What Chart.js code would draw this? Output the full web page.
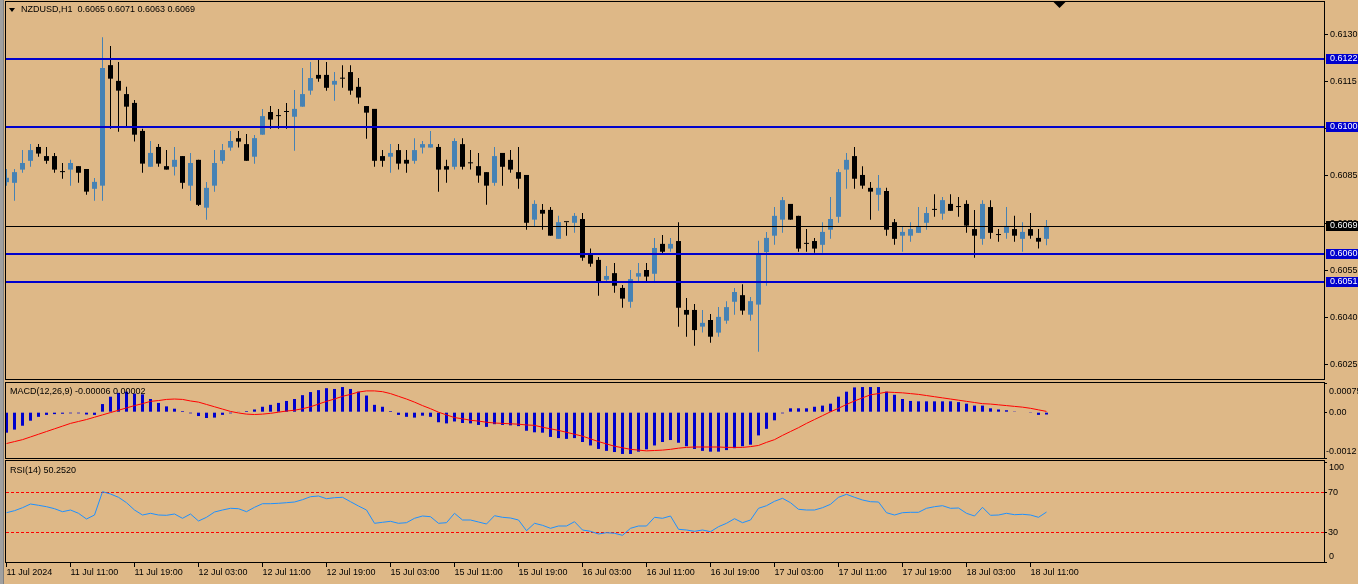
<!DOCTYPE html>
<html><head><meta charset="utf-8">
<script src="https://cdn.jsdelivr.net/npm/chart.js@4.4.1/dist/chart.umd.min.js"></script>
<style>
html,body{margin:0;padding:0;background:#DEB887;width:1358px;height:584px;overflow:hidden;font-family:'Liberation Sans',Arial,sans-serif;}
canvas{position:absolute;left:0;}
#frame{position:absolute;left:0;top:0;width:4px;height:584px;background:#a0a0a0;border-right:1px solid #808080;box-sizing:border-box;}
.lbl{position:absolute;font-size:9px;line-height:11px;color:#000;white-space:pre;z-index:5;}
#tri{position:absolute;left:9px;top:8px;width:0;height:0;border-left:3px solid transparent;border-right:3px solid transparent;border-top:4px solid #000;z-index:5;}
</style></head><body>
<div id="frame"></div>
<canvas id="main" width="1358" height="381" style="top:0"></canvas>
<canvas id="macd" width="1358" height="77" style="top:382px"></canvas>
<canvas id="rsi" width="1358" height="124" style="top:460px"></canvas>
<div id="tri"></div>
<div class="lbl" id="title" style="left:21px;top:4px"></div>
<div class="lbl" id="macdLbl" style="left:10px;top:386px"></div>
<div class="lbl" id="rsiLbl" style="left:10px;top:465px"></div>
<script>
// ---------------- DATA ----------------
const symbol = "NZDUSD,H1";
const opens = [0.60830,0.60828,0.60870,0.60898,0.60942,0.60913,0.60913,0.60862,0.60870,0.60881,
0.60872,0.60809,0.60819,0.61202,0.61152,0.61110,0.61082,0.60993,0.60879,0.60942,
0.60881,0.60879,0.60913,0.60819,0.60901,0.60749,0.60819,0.60898,0.60940,0.60970,
0.60951,0.60911,0.60981,0.61053,0.61040,0.61053,0.61038,0.61070,0.61121,0.61171,
0.61171,0.61140,0.61159,0.61180,0.61133,0.61072,0.61063,0.60913,0.60911,0.60932,
0.60901,0.60898,0.60940,0.60940,0.60942,0.60881,0.60879,0.60951,0.60890,0.60881,
0.60862,0.60828,0.60923,0.60901,0.60862,0.60853,0.60711,0.60742,0.60742,0.60650,
0.60703,0.60701,0.60713,0.60600,0.60583,0.60520,0.60541,0.60494,0.60450,0.60530,
0.60551,0.60539,0.60634,0.60619,0.60643,0.60424,0.60424,0.60371,0.60392,0.60352,
0.60390,0.60450,0.60471,0.60409,0.60441,0.60608,0.60660,0.60711,0.60761,0.60723,
0.60634,0.60643,0.60631,0.60679,0.60720,0.60870,0.60913,0.60853,0.60812,0.60790,
0.60802,0.60703,0.60660,0.60660,0.60669,0.60701,0.60742,0.60730,0.60761,0.60751,
0.60761,0.60681,0.60650,0.60751,0.60662,0.60669,0.60681,0.60650,0.60681,0.60653,
0.60650];
const highs = [0.60872,0.60872,0.60932,0.60951,0.60951,0.60942,0.60923,0.60891,0.60901,0.60881,
0.60872,0.60843,0.61291,0.61263,0.61212,0.61133,0.61091,0.61000,0.60961,0.60951,
0.60932,0.60942,0.60913,0.60923,0.60901,0.60831,0.60932,0.60951,0.60993,0.60993,
0.60983,0.60980,0.61063,0.61072,0.61063,0.61082,0.61123,0.61193,0.61212,0.61218,
0.61212,0.61180,0.61202,0.61202,0.61161,0.61072,0.61063,0.60932,0.60951,0.60951,
0.60932,0.60970,0.60961,0.60993,0.60951,0.60901,0.60970,0.60970,0.60932,0.60923,
0.60862,0.60942,0.60923,0.60932,0.60942,0.60853,0.60773,0.60761,0.60751,0.60723,
0.60703,0.60732,0.60732,0.60619,0.60592,0.60564,0.60573,0.60503,0.60551,0.60573,
0.60573,0.60653,0.60662,0.60653,0.60703,0.60462,0.60443,0.60424,0.60411,0.60433,
0.60452,0.60494,0.60506,0.60465,0.60644,0.60672,0.60751,0.60783,0.60761,0.60723,
0.60681,0.60653,0.60703,0.60783,0.60872,0.60923,0.60942,0.60881,0.60831,0.60853,
0.60812,0.60713,0.60691,0.60703,0.60751,0.60751,0.60792,0.60783,0.60792,0.60783,
0.60773,0.60742,0.60773,0.60773,0.60681,0.60751,0.60723,0.60703,0.60732,0.60681,
0.60710];
const lows = [0.60819,0.60771,0.60860,0.60879,0.60911,0.60889,0.60860,0.60841,0.60819,0.60828,
0.60790,0.60771,0.60771,0.61000,0.60990,0.61006,0.60959,0.60860,0.60879,0.60879,
0.60870,0.60851,0.60809,0.60771,0.60754,0.60711,0.60800,0.60889,0.60930,0.60940,
0.60898,0.60889,0.60981,0.61000,0.61000,0.61000,0.60930,0.61070,0.61108,0.61149,
0.61121,0.61089,0.61130,0.61108,0.61079,0.60968,0.60879,0.60879,0.60860,0.60870,
0.60860,0.60889,0.60921,0.60940,0.60800,0.60828,0.60870,0.60870,0.60870,0.60828,
0.60758,0.60819,0.60819,0.60860,0.60809,0.60679,0.60689,0.60679,0.60660,0.60650,
0.60660,0.60669,0.60580,0.60561,0.60469,0.60514,0.60479,0.60431,0.60431,0.60514,
0.60514,0.60514,0.60600,0.60609,0.60371,0.60339,0.60310,0.60352,0.60320,0.60339,
0.60380,0.60409,0.60409,0.60390,0.60291,0.60501,0.60631,0.60669,0.60711,0.60609,
0.60609,0.60606,0.60606,0.60650,0.60701,0.60809,0.60809,0.60809,0.60711,0.60739,
0.60660,0.60631,0.60609,0.60641,0.60669,0.60679,0.60720,0.60711,0.60739,0.60720,
0.60669,0.60590,0.60631,0.60650,0.60641,0.60650,0.60641,0.60609,0.60650,0.60619,
0.60630];
const closes = [0.60844,0.60862,0.60891,0.60932,0.60921,0.60898,0.60870,0.60862,0.60891,0.60860,
0.60800,0.60831,0.61193,0.61159,0.61121,0.61070,0.60981,0.60889,0.60923,0.60889,
0.60870,0.60901,0.60828,0.60891,0.60758,0.60812,0.60891,0.60932,0.60961,0.60959,
0.60898,0.60970,0.61040,0.61029,0.61040,0.61053,0.61063,0.61110,0.61161,0.61159,
0.61130,0.61152,0.61159,0.61121,0.61099,0.61051,0.60898,0.60898,0.60923,0.60889,
0.60889,0.60932,0.60951,0.60951,0.60870,0.60870,0.60961,0.60879,0.60890,0.60851,
0.60819,0.60913,0.60879,0.60870,0.60841,0.60701,0.60761,0.60730,0.60660,0.60703,
0.60703,0.60723,0.60590,0.60571,0.60514,0.60532,0.60501,0.60460,0.60522,0.60541,
0.60530,0.60621,0.60609,0.60634,0.60431,0.60409,0.60360,0.60383,0.60339,0.60402,
0.60433,0.60481,0.60422,0.60452,0.60602,0.60653,0.60723,0.60773,0.60711,0.60619,
0.60634,0.60619,0.60672,0.60713,0.60862,0.60901,0.60841,0.60819,0.60800,0.60812,
0.60679,0.60650,0.60672,0.60681,0.60691,0.60732,0.60742,0.60773,0.60739,0.60751,
0.60692,0.60660,0.60761,0.60669,0.60662,0.60691,0.60660,0.60672,0.60660,0.60641,
0.60690];
const macdMain = [-0.00053,-0.00045,-0.00035,-0.00022,-0.00012,-0.00007,-0.00005,-0.00004,-0.00003,-0.00003,
-0.00006,-0.00007,0.00021,0.00040,0.00050,0.00053,0.00048,0.00046,0.00034,0.00024,
0.00015,0.00009,0.00003,-0.00003,-0.00010,-0.00015,-0.00014,-0.00007,-0.00003,0.00001,
0.00003,0.00007,0.00014,0.00019,0.00024,0.00029,0.00034,0.00044,0.00052,0.00057,
0.00062,0.00060,0.00065,0.00060,0.00053,0.00043,0.00019,0.00014,0.00003,-0.00007,
-0.00012,-0.00014,-0.00009,-0.00012,-0.00026,-0.00029,-0.00024,-0.00028,-0.00029,-0.00033,
-0.00038,-0.00031,-0.00033,-0.00034,-0.00036,-0.00048,-0.00052,-0.00053,-0.00064,-0.00067,
-0.00069,-0.00067,-0.00077,-0.00086,-0.00095,-0.00100,-0.00103,-0.00108,-0.00108,-0.00102,
-0.00096,-0.00086,-0.00077,-0.00072,-0.00079,-0.00088,-0.00095,-0.00100,-0.00102,-0.00102,
-0.00098,-0.00093,-0.00088,-0.00084,-0.00060,-0.00043,-0.00021,-0.00003,0.00010,0.00010,
0.00010,0.00014,0.00017,0.00022,0.00040,0.00053,0.00064,0.00065,0.00065,0.00065,
0.00053,0.00045,0.00034,0.00029,0.00028,0.00028,0.00028,0.00028,0.00028,0.00026,
0.00022,0.00017,0.00017,0.00010,0.00007,0.00005,0.00002,0.00000,-0.00002,-0.00007,
-0.00006];
const macdSignal = [-0.00081,-0.00076,-0.00071,-0.00064,-0.00057,-0.00050,-0.00043,-0.00036,-0.00029,-0.00024,
-0.00019,-0.00013,-0.00007,-0.00001,0.00005,0.00011,0.00017,0.00022,0.00028,0.00030,
0.00033,0.00034,0.00033,0.00029,0.00026,0.00020,0.00014,0.00008,0.00002,-0.00002,
-0.00005,-0.00006,-0.00005,-0.00003,0.00000,0.00003,0.00005,0.00009,0.00014,0.00021,
0.00028,0.00034,0.00041,0.00046,0.00052,0.00055,0.00055,0.00053,0.00048,0.00041,
0.00034,0.00026,0.00017,0.00009,0.00000,-0.00007,-0.00014,-0.00017,-0.00021,-0.00023,
-0.00026,-0.00028,-0.00029,-0.00030,-0.00031,-0.00033,-0.00034,-0.00039,-0.00043,-0.00047,
-0.00052,-0.00057,-0.00062,-0.00069,-0.00076,-0.00082,-0.00088,-0.00092,-0.00096,-0.00098,
-0.00100,-0.00099,-0.00098,-0.00096,-0.00093,-0.00091,-0.00090,-0.00090,-0.00090,-0.00090,
-0.00091,-0.00091,-0.00091,-0.00089,-0.00086,-0.00078,-0.00071,-0.00060,-0.00050,-0.00040,
-0.00029,-0.00019,-0.00009,0.00001,0.00010,0.00020,0.00029,0.00037,0.00045,0.00048,
0.00052,0.00051,0.00050,0.00048,0.00046,0.00043,0.00040,0.00037,0.00034,0.00031,
0.00028,0.00025,0.00022,0.00021,0.00019,0.00017,0.00015,0.00013,0.00010,0.00006,
0.00002];
const rsiValues = [49.6,51.6,54.6,58.3,57.0,55.6,53.6,50.6,52.3,49.0,
43.3,47.3,70.6,68.3,65.0,59.6,52.3,47.3,49.0,47.3,
47.0,48.3,44.0,48.3,41.3,45.0,50.3,52.3,54.0,53.6,
50.6,55.0,58.6,58.6,59.0,59.6,60.3,62.6,65.6,66.3,
63.6,64.6,65.0,60.6,56.3,52.3,39.0,40.0,41.0,39.0,
39.6,44.0,46.3,45.6,39.0,39.6,49.0,42.3,42.3,40.3,
38.3,46.6,45.0,44.3,42.3,31.6,39.0,37.0,34.0,36.3,
36.3,40.6,32.3,31.0,28.3,29.6,29.0,27.0,34.0,36.3,
36.3,45.0,44.0,46.3,33.0,32.3,31.0,32.3,30.6,35.6,
39.0,43.6,39.6,42.3,54.0,56.6,61.0,64.0,59.6,53.0,
52.3,52.3,54.6,58.0,65.0,68.0,65.0,62.3,60.6,60.3,
49.6,47.3,49.6,50.0,50.0,54.0,55.6,56.6,54.0,54.3,
49.0,46.3,55.0,47.0,47.3,49.0,47.6,48.0,47.3,45.0,
50.252];
const levelPrices = [0.61221, 0.61005, 0.60603, 0.60514];
const priceTicks = [0.6130, 0.6115, 0.6100, 0.6085, 0.6070, 0.6055, 0.6040, 0.6025];
const macdTicks = [0.00075, 0.00, -0.0012];
const rsiTicks = [100, 70, 30, 0];
const rsiLevels = [70, 30];
const timeTickIndex = [0, 8, 16, 24, 32, 40, 48, 56, 64, 72, 80, 88, 96, 104, 112, 120, 128];
const timeTickLabels = ["11 Jul 2024","11 Jul 11:00","11 Jul 19:00","12 Jul 03:00","12 Jul 11:00","12 Jul 19:00",
"15 Jul 03:00","15 Jul 11:00","15 Jul 19:00","16 Jul 03:00","16 Jul 11:00","16 Jul 19:00",
"17 Jul 03:00","17 Jul 11:00","17 Jul 19:00","18 Jul 03:00","18 Jul 11:00"];

// ---------------- STYLE / LAYOUT ----------------
const FONT = "'Liberation Sans', Arial, sans-serif";
Chart.defaults.font.family = FONT;
Chart.defaults.font.size = 9;
Chart.defaults.color = '#000';
const X_MIN = -0.1875, X_MAX = 164.8125;
const AXIS_W = 33;
const BULL = '#4682B4', BEAR = '#000000', LINE_BLUE = '#0000CD';
const last = closes.length - 1;

const fitY = s => { s.width = AXIS_W; s.paddingTop = 0; s.paddingBottom = 0; };
const framePlugin = {id:'frame', afterDraw(c){
  const a = c.chartArea, x = c.ctx; x.save(); x.strokeStyle = '#000'; x.lineWidth = 1;
  x.strokeRect(a.left + 0.5, a.top + 0.5, a.right - a.left - 1, a.bottom - a.top - 1); x.restore();
}};
const baseOpts = (yScale, extra) => Object.assign({
  responsive:false, devicePixelRatio:1, animation:false, events:[],
  plugins:{legend:{display:false}, tooltip:{enabled:false}},
  scales:{x:{type:'linear', display:false, min:X_MIN, max:X_MAX, offset:false, bounds:'data'}, y:yScale}
}, extra);

// ---------- MAIN ----------
const candleColors = closes.map((c, i) => c > opens[i] ? BULL : BEAR);
const trunc4 = v => (Math.floor(v * 10000 + 1e-6) / 10000).toFixed(4);
const mainPlugin = {id:'mainExtras',
  afterDatasetsDraw(c){
    const {ctx, chartArea:a, scales:{y}} = c; ctx.save();
    ctx.fillStyle = LINE_BLUE;
    levelPrices.forEach(v => { const py = Math.round(y.getPixelForValue(v)); ctx.fillRect(a.left, py - 1, a.right - a.left, 2); });
    const bp = Math.round(y.getPixelForValue(closes[last])) + 0.5;
    ctx.strokeStyle = '#000'; ctx.lineWidth = 1; ctx.beginPath(); ctx.moveTo(a.left, bp); ctx.lineTo(a.right, bp); ctx.stroke();
    ctx.restore();
  },
  afterDraw(c){
    const {ctx, chartArea:a, scales:{y, x}} = c; ctx.save();
    ctx.font = '9px ' + FONT; ctx.textBaseline = 'middle'; ctx.textAlign = 'left';
    const box = (v, bg, txt) => { const py = Math.round(y.getPixelForValue(v));
      ctx.fillStyle = bg; ctx.fillRect(a.right + 1, py - 5, 40, 10);
      ctx.fillStyle = '#fff'; ctx.fillText(txt, a.right + 5, py); };
    levelPrices.forEach(v => box(v, LINE_BLUE, trunc4(v)));
    box(closes[last], '#000', closes[last].toFixed(4));
    // chart shift marker
    const sx = Math.round(x.getPixelForValue(131.5)) + 0.5;
    ctx.fillStyle = '#000'; ctx.beginPath(); ctx.moveTo(sx - 6, a.top + 1); ctx.lineTo(sx + 6, a.top + 1); ctx.lineTo(sx, a.top + 7); ctx.closePath(); ctx.fill();
    ctx.restore();
  }
};
const P_MAX = 0.6140583, P_MIN = 0.6020139;
new Chart(document.getElementById('main'), {
  type:'bar',
  data:{datasets:[
    {data: opens.map((o, i) => ({x:i, y:[o, closes[i]]})), backgroundColor:candleColors, barThickness:5, minBarLength:1, grouped:false, inflateAmount:0, borderWidth:0},
    {data: lows.map((l, i) => ({x:i, y:[l, highs[i]]})), backgroundColor:candleColors, barThickness:1, grouped:false, inflateAmount:0, borderWidth:0}
  ]},
  options: baseOpts({position:'right', min:P_MIN, max:P_MAX, bounds:'data',
    afterFit: fitY,
    afterBuildTicks: s => { s.ticks = priceTicks.map(v => ({value:v})); },
    grid:{drawOnChartArea:false, drawTicks:true, tickLength:3, color:'#000'},
    border:{display:false},
    ticks:{autoSkip:false, padding:2, callback: v => v.toFixed(4)}
  }, {layout:{padding:{left:5, top:1, bottom:1, right:0}}}),
  plugins:[mainPlugin, framePlugin]
});

// ---------- axis text helper for indicator panels ----------
const sideText = (items) => ({id:'sideText', afterDraw(c){
  const {ctx, chartArea:a, scales:{y}} = c; ctx.save();
  ctx.font = '9px ' + FONT; ctx.fillStyle = '#000'; ctx.textAlign = 'left'; ctx.textBaseline = 'middle';
  items.forEach(it => ctx.fillText(it.text, a.right + it.dx, y.getPixelForValue(it.v) + it.dy));
  ctx.restore();
}});

// ---------- MACD ----------
new Chart(document.getElementById('macd'), {
  type:'bar',
  data:{datasets:[
    {type:'line', data: macdSignal.map((v, i) => ({x:i, y:v})), borderColor:'#FF0000', borderWidth:1, pointRadius:0, tension:0, fill:false},
    {data: macdMain.map((v, i) => ({x:i, y:v})), backgroundColor:LINE_BLUE, barThickness:3, grouped:false, inflateAmount:0, borderWidth:0}
  ]},
  options: baseOpts({position:'right', min:-0.00121, max:0.00078, bounds:'data',
    afterFit: fitY,
    afterBuildTicks: s => { s.ticks = macdTicks.map(v => ({value:v})); },
    grid:{drawOnChartArea:false, drawTicks:true, tickLength:2, color:'#000'},
    border:{display:false}, ticks:{display:false}
  }, {layout:{padding:{left:5, top:0, bottom:0, right:0}}}),
  plugins:[framePlugin, sideText([
    {v:macdTicks[0], text:'0.00075', dx:4, dy:8},
    {v:macdTicks[1], text:'0.00', dx:4, dy:0},
    {v:macdTicks[2], text:'-0.0012', dx:1, dy:-7}])]
});

// ---------- RSI ----------
const rsiLevelPlugin = {id:'rsiLevels', beforeDatasetsDraw(c){
  const {ctx, chartArea:a, scales:{y}} = c; ctx.save();
  ctx.strokeStyle = '#FF0000'; ctx.lineWidth = 1; ctx.setLineDash([3, 2]);
  rsiLevels.forEach(v => { const py = Math.round(y.getPixelForValue(v)) + 0.5; ctx.beginPath(); ctx.moveTo(a.left + 1, py); ctx.lineTo(a.right - 1, py); ctx.stroke(); });
  ctx.restore();
}};
const rsiOpts = baseOpts({position:'right', min:-0.7, max:102.3, bounds:'data',
    afterFit: fitY,
    afterBuildTicks: s => { s.ticks = rsiTicks.map(v => ({value:v})); },
    grid:{drawOnChartArea:false, drawTicks:true, tickLength:2, color:'#000'},
    border:{display:false}, ticks:{display:false}
  }, {layout:{padding:{left:5, top:0, bottom:0, right:0}}});
rsiOpts.scales.x = {type:'linear', display:true, position:'bottom', min:X_MIN, max:X_MAX, offset:false, bounds:'data',
  afterFit: s => { s.height = 21; s.paddingLeft = 0; s.paddingRight = 0; },
  afterBuildTicks: s => { s.ticks = timeTickIndex.map(v => ({value:v})); },
  grid:{drawOnChartArea:false, drawTicks:true, tickLength:4, color:'#000'},
  border:{display:false},
  ticks:{autoSkip:false, maxRotation:0, minRotation:0, align:'start', padding:0,
    callback: v => timeTickLabels[timeTickIndex.indexOf(v)]}
};
new Chart(document.getElementById('rsi'), {
  type:'line',
  data:{datasets:[{data: rsiValues.map((v, i) => ({x:i, y:v})), borderColor:'#1E90FF', borderWidth:1, pointRadius:0, tension:0, fill:false}]},
  options: rsiOpts,
  plugins:[rsiLevelPlugin, framePlugin, sideText([
    {v:100, text:'100', dx:4, dy:5},
    {v:70, text:'70', dx:3, dy:0},
    {v:30, text:'30', dx:3, dy:0},
    {v:0, text:'0', dx:4, dy:-6}])]
});

// ---------- text labels ----------
const f4 = v => v.toFixed(4), f5 = v => v.toFixed(5);
document.getElementById('title').textContent = symbol + '  ' + [opens[last], highs[last], lows[last], closes[last]].map(f4).join(' ');
document.getElementById('macdLbl').textContent = 'MACD(12,26,9) ' + f5(macdMain[last]) + ' ' + f5(macdSignal[last]);
document.getElementById('rsiLbl').textContent = 'RSI(14) ' + rsiValues[last].toFixed(4);
</script>
</body></html>
